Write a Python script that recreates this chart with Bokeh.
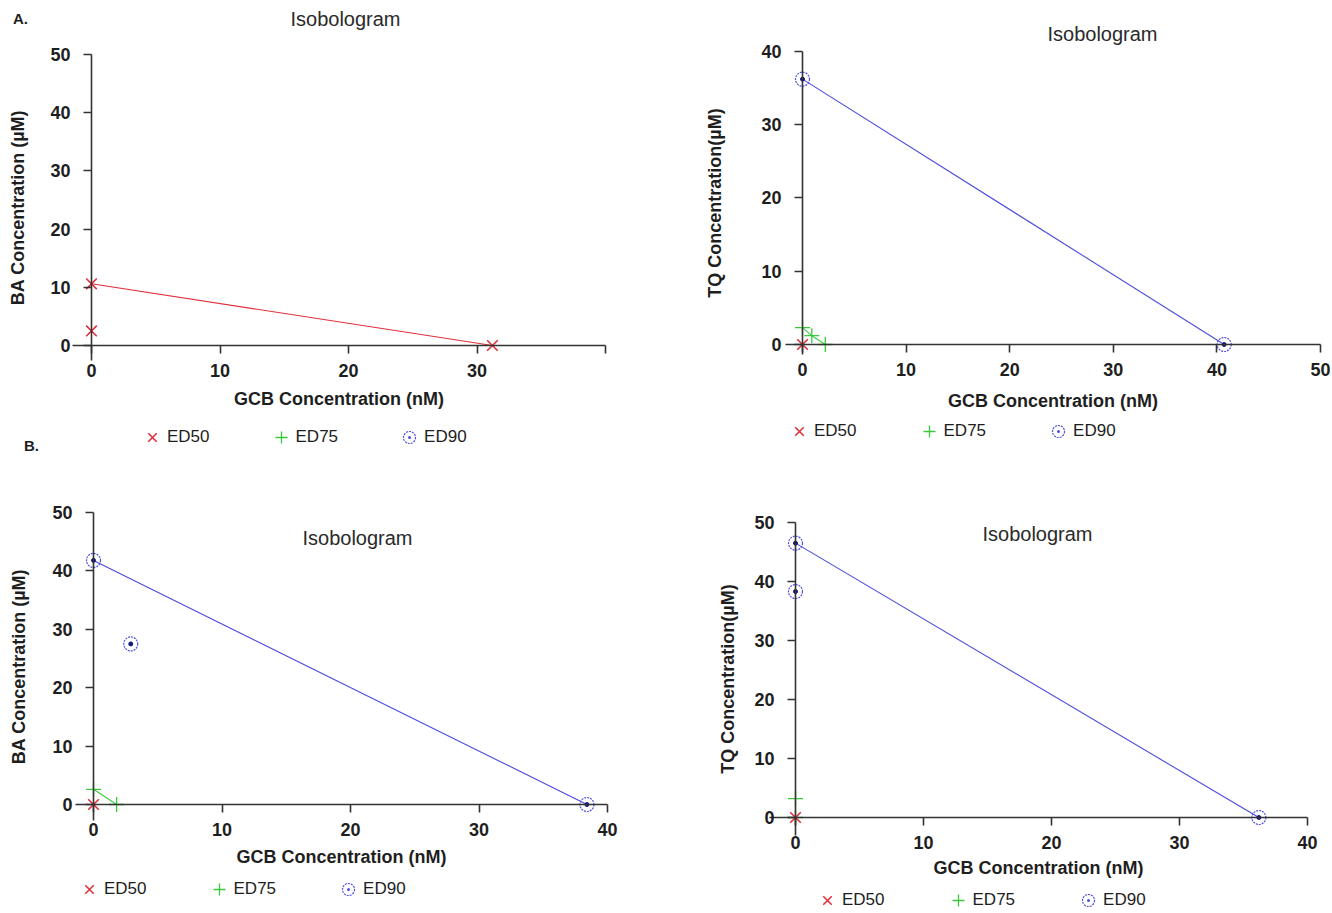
from bokeh.plotting import figure
from bokeh.models import Range1d, Label, Legend, LegendItem, FixedTicker
from bokeh.layouts import column, row
from bokeh.embed import file_html
from bokeh.resources import INLINE

NAN = float("nan")  # "no points of this series in this panel"

# ---------------- data ----------------
# Panel A, left: GCB + BA
a1_ed50_line_x = [0, 31.2]
a1_ed50_line_y = [10.6, 0]
a1_ed50_extra_x = [0]
a1_ed50_extra_y = [2.5]
a1_ed75_x = [NAN]
a1_ed75_y = [NAN]
a1_ed90_x = [NAN]
a1_ed90_y = [NAN]

# Panel A, right: GCB + TQ
a2_ed50_x = [0]
a2_ed50_y = [0]
a2_ed75_x = [0, 0.9, 2.2]
a2_ed75_y = [2.3, 1.2, 0]
a2_ed90_x = [0, 40.7]
a2_ed90_y = [36.2, 0]

# Panel B, left: GCB + BA
b1_ed50_x = [0]
b1_ed50_y = [0]
b1_ed75_x = [0, 1.8]
b1_ed75_y = [2.6, 0]
b1_ed90_x = [0, 38.4]
b1_ed90_y = [41.8, 0]
b1_ed90_extra_x = [2.9]
b1_ed90_extra_y = [27.5]

# Panel B, right: GCB + TQ
b2_ed50_x = [0]
b2_ed50_y = [0]
b2_ed75_x = [0, 0]
b2_ed75_y = [3.2, 0]
b2_ed90_x = [0, 36.2]
b2_ed90_y = [46.5, 0]
b2_ed90_extra_x = [0]
b2_ed90_extra_y = [38.3]

x_ticks_40 = [0, 10, 20, 30, 40]
x_ticks_50 = [0, 10, 20, 30, 40, 50]
y_ticks_40 = [0, 10, 20, 30, 40]
y_ticks_50 = [0, 10, 20, 30, 40, 50]
series_names = ["ED50", "ED75", "ED90"]
title_text = "Isobologram"
x_label = "GCB Concentration (nM)"
ba_label = "BA Concentration (\u00b5M)"
tq_label = "TQ Concentration(\u00b5M)"

# ---------------- style ----------------
FONT = "Liberation Sans"
RED = "#e0303c"
GREEN = "#3cc83c"
BLUE = "#4b4bdc"
BLUE_RING = "#4f4fe0"
NAVY = "#15157a"
AX = "#333333"
TXT = "#1e1e1e"
GLYPH = 30


def make_panel(W, H, ox, sx, oy, sy, xb, yb, xticks, yticks, ylab,
               lines, m50, m75, m90, xover, ylab_so, xlab_so,
               title_pos, legend_loc, legend_spacing, letters=()):
    p = figure(width=W, height=H,
               x_range=Range1d(-ox / sx, (W - ox) / sx),
               y_range=Range1d(-(H - oy) / sy, oy / sy),
               toolbar_location=None, output_backend="svg",
               min_border_left=0, min_border_right=0,
               min_border_top=0, min_border_bottom=0,
               outline_line_color=None,
               background_fill_color="white", border_fill_color="white")
    p.grid.visible = False

    def d(fx, fy):
        return ((fx - ox) / sx, (oy - fy) / sy)

    for xs, ys, col in lines:
        p.line(xs, ys, line_color=col, line_width=1.1)

    r90c = p.scatter(m90[0], m90[1], marker="circle_dot", size=14,
                     fill_color=None, line_color=BLUE_RING, line_width=1.2,
                     line_dash="2 1")
    p.scatter(m90[0], m90[1], marker="circle", size=4,
              fill_color=NAVY, line_color=NAVY)
    r75 = p.scatter(m75[0], m75[1], marker="cross", size=15,
                    line_color=GREEN, line_width=1.3)
    r50 = p.scatter(m50[0], m50[1], marker="x", size=15,
                    line_color=RED, line_width=1.6)

    xa = p.xaxis[0]
    ya = p.yaxis[0]
    for ax in (xa, ya):
        ax.fixed_location = 0
        ax.axis_line_color = AX
        ax.axis_line_width = 1.6
        ax.major_tick_line_color = AX
        ax.major_tick_line_width = 1.6
        ax.major_tick_out = 8
        ax.major_tick_in = 0
        ax.minor_tick_line_color = None
        ax.major_label_text_font = FONT
        ax.major_label_text_font_style = "bold"
        ax.major_label_text_font_size = "18px"
        ax.major_label_text_color = TXT
        ax.axis_label_text_font = FONT
        ax.axis_label_text_font_style = "bold"
        ax.axis_label_text_font_size = "18px"
        ax.axis_label_text_color = TXT
    xa.ticker = FixedTicker(ticks=xticks, minor_ticks=[])
    ya.ticker = FixedTicker(ticks=yticks, minor_ticks=[])
    xa.bounds = xb
    ya.bounds = yb
    if xover:
        xa.major_label_overrides = xover
    xa.axis_label = x_label
    ya.axis_label = ylab
    xa.major_label_standoff = 10
    ya.major_label_standoff = 13
    xa.axis_label_standoff = xlab_so
    ya.axis_label_standoff = ylab_so

    tx, ty = d(*title_pos)
    p.add_layout(Label(x=tx, y=ty, text=title_text, text_font=FONT,
                       text_font_size="20px", text_color="#2a2a2a",
                       text_align="center", text_baseline="middle"))
    for txt, fx, fy in letters:
        lx, ly = d(fx, fy)
        p.add_layout(Label(x=lx, y=ly, text=txt, text_font=FONT,
                           text_font_style="bold", text_font_size="15px",
                           text_color=TXT, text_align="center",
                           text_baseline="middle"))

    legend = Legend(items=[
        LegendItem(label=series_names[0], renderers=[r50]),
        LegendItem(label=series_names[1], renderers=[r75]),
        LegendItem(label=series_names[2], renderers=[r90c]),
    ], location=legend_loc, orientation="horizontal",
        background_fill_alpha=0, border_line_alpha=0, padding=0, margin=0,
        spacing=legend_spacing, glyph_width=GLYPH, glyph_height=GLYPH,
        label_standoff=0, label_text_font=FONT, label_text_font_size="17px",
        label_text_color=TXT)
    p.add_layout(legend)
    return p


W1, W2, H1, H2 = 664, 666, 456, 455

pa1 = make_panel(
    W1, H1, 91, 12.85, 345, 5.82, (-1.5, 40), (-2.5, 50),
    x_ticks_40, y_ticks_50, ba_label,
    lines=[(a1_ed50_line_x, a1_ed50_line_y, RED)],
    m50=(a1_ed50_line_x + a1_ed50_extra_x, a1_ed50_line_y + a1_ed50_extra_y),
    m75=(a1_ed75_x, a1_ed75_y), m90=(a1_ed90_x, a1_ed90_y),
    xover={40: ""}, ylab_so=19, xlab_so=9,
    title_pos=(345, 18), legend_loc=(137, 4), legend_spacing=56,
    letters=(("A.", 20, 18), ("B.", 31, 445)))

pa2 = make_panel(
    W2, H1, 138, 10.36, 344, 7.33, (-1.6, 50), (-1.4, 40),
    x_ticks_50, y_ticks_40, tq_label,
    lines=[(a2_ed75_x, a2_ed75_y, GREEN), (a2_ed90_x, a2_ed90_y, BLUE)],
    m50=(a2_ed50_x, a2_ed50_y), m75=(a2_ed75_x, a2_ed75_y),
    m90=(a2_ed90_x, a2_ed90_y),
    xover=None, ylab_so=33, xlab_so=12,
    title_pos=(438, 33), legend_loc=(120, 10), legend_spacing=57)

pb1 = make_panel(
    W1, H2, 93, 12.85, 348, 5.84, (-1.4, 40), (-2.7, 50),
    x_ticks_40, y_ticks_50, ba_label,
    lines=[(b1_ed75_x, b1_ed75_y, GREEN), (b1_ed90_x, b1_ed90_y, BLUE)],
    m50=(b1_ed50_x, b1_ed50_y), m75=(b1_ed75_x, b1_ed75_y),
    m90=(b1_ed90_x + b1_ed90_extra_x, b1_ed90_y + b1_ed90_extra_y),
    xover=None, ylab_so=20, xlab_so=8,
    title_pos=(357, 81), legend_loc=(74, 7), legend_spacing=57)

pb2 = make_panel(
    W2, H2, 131, 12.8, 361, 5.9, (-2.0, 40), (-3.0, 50),
    x_ticks_40, y_ticks_50, tq_label,
    lines=[(b2_ed75_x, b2_ed75_y, GREEN), (b2_ed90_x, b2_ed90_y, BLUE)],
    m50=(b2_ed50_x, b2_ed50_y), m75=(b2_ed75_x, b2_ed75_y),
    m90=(b2_ed90_x + b2_ed90_extra_x, b2_ed90_y + b2_ed90_extra_y),
    xover=None, ylab_so=13, xlab_so=6,
    title_pos=(373, 77), legend_loc=(148, -4), legend_spacing=58)

layout = column(row(pa1, pa2), row(pb1, pb2))
open("out.html", "w").write(file_html(layout, INLINE))
